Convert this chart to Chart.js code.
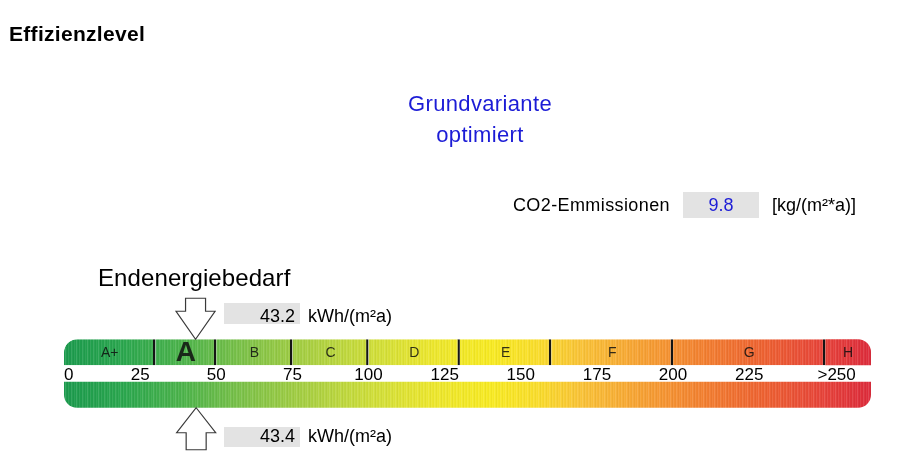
<!DOCTYPE html>
<html>
<head>
<meta charset="utf-8">
<script src="https://cdn.jsdelivr.net/npm/chart.js@4.4.1/dist/chart.umd.min.js"></script>
<style>
html,body{margin:0;padding:0;background:#fff;}
body{width:900px;height:456px;position:relative;overflow:hidden;font-family:"Liberation Sans",Arial,Helvetica,sans-serif;color:#000;}
#wrap{position:absolute;left:0;top:0;width:900px;height:456px;}
.t{position:absolute;line-height:1;white-space:nowrap;}
.box{position:absolute;background:#e3e3e3;}
.blue{color:#1c1cd6;}
</style>
</head>
<body>
<div id="wrap"><canvas id="c"></canvas></div>

<div class="t" id="pageTitle" style="left:9px;top:23px;font-size:21px;font-weight:bold;letter-spacing:0.3px;"></div>
<div class="t blue" id="variant" style="left:330px;width:300px;text-align:center;top:88px;font-size:22px;line-height:31px;letter-spacing:0.35px;"></div>

<div class="t" id="co2Label" style="right:230px;top:196px;font-size:18px;letter-spacing:0.4px;"></div>
<div class="box" style="left:683px;top:192px;width:76px;height:26px;"></div>
<div class="t blue" id="co2Value" style="left:683px;width:76px;text-align:center;top:196px;font-size:18px;"></div>
<div class="t" id="co2Unit" style="left:772px;top:196px;font-size:18px;"></div>

<div class="t" id="demandTitle" style="left:98px;top:266px;font-size:24px;letter-spacing:0.1px;"></div>

<div class="box" style="left:224px;top:303px;width:76px;height:21px;"></div>
<div class="t" id="valTop" style="left:224px;width:71px;text-align:right;top:306.5px;font-size:18px;"></div>
<div class="t" id="unitTop" style="left:308px;top:306.5px;font-size:18px;"></div>

<div class="box" style="left:224px;top:427px;width:76px;height:20px;"></div>
<div class="t" id="valBottom" style="left:224px;width:71px;text-align:right;top:427px;font-size:18px;"></div>
<div class="t" id="unitBottom" style="left:308px;top:427px;font-size:18px;"></div>

<script>
// ---------- data ----------
const pageTitle = 'Effizienzlevel';
const variantLines = ['Grundvariante', 'optimiert'];
const co2Label = 'CO2-Emmissionen';
const co2Value = 9.8;
const co2Unit = '[kg/(m²*a)]';
const demandTitle = 'Endenergiebedarf';
const demandUnit = 'kWh/(m²a)';
const rowLabels = ['Endenergiebedarf oben', 'Endenergiebedarf unten'];
const demandValues = [43.2, 43.4];               // top arrow, bottom arrow
const classNames = ['A+', 'A', 'B', 'C', 'D', 'E', 'F', 'G', 'H'];
const classLimits = [0, 30, 50, 75, 100, 130, 160, 200, 250, 265];
const scaleMax = 265;
const tickValues = [0, 25, 50, 75, 100, 125, 150, 175, 200, 225, 260];
const tickLabels = ['0', '25', '50', '75', '100', '125', '150', '175', '200', '225', '>250'];

// ---------- styles ----------
const gradValues = [0, 20, 40, 60, 80, 100, 120, 140, 155, 170, 190, 210, 230, 250, 265];
const gradColors = ['#1b9a4d', '#2ba74e', '#4fb44b', '#7fc248', '#a8cf42', '#cddd3a', '#ebe62e', '#f7ea22',
                    '#f9dd2b', '#f9c237', '#f6a033', '#f27f30', '#ed6131', '#e6423a', '#dc2b3b'];
const stripePattern = [0, 0.13, 0.02, -0.04, 0.08, 0, -0.02, 0.11, 0.03, -0.03, 0.06];
const FONT = '"Liberation Sans", Arial, Helvetica, sans-serif';

// ---------- html texts ----------
document.getElementById('pageTitle').textContent = pageTitle;
document.getElementById('variant').innerHTML = variantLines.join('<br>');
document.getElementById('co2Label').textContent = co2Label;
document.getElementById('co2Value').textContent = co2Value.toFixed(1);
document.getElementById('co2Unit').textContent = co2Unit;
document.getElementById('demandTitle').textContent = demandTitle;
document.getElementById('valTop').textContent = demandValues[0].toFixed(1);
document.getElementById('valBottom').textContent = demandValues[1].toFixed(1);
document.getElementById('unitTop').textContent = demandUnit;
document.getElementById('unitBottom').textContent = demandUnit;

// ---------- helpers ----------
function hexToRgb(h) { return [parseInt(h.slice(1, 3), 16), parseInt(h.slice(3, 5), 16), parseInt(h.slice(5, 7), 16)]; }
const gradRgb = gradColors.map(hexToRgb);
function colorAt(v) {
  for (let i = 0; i < gradValues.length - 1; i++) {
    if (v <= gradValues[i + 1]) {
      const t = (v - gradValues[i]) / (gradValues[i + 1] - gradValues[i]);
      const a = gradRgb[i], b = gradRgb[i + 1];
      return [a[0] + (b[0] - a[0]) * t, a[1] + (b[1] - a[1]) * t, a[2] + (b[2] - a[2]) * t];
    }
  }
  return gradRgb[gradRgb.length - 1].slice();
}
let gradCache = null;
function barFill(ctx) {
  const chart = ctx.chart;
  const xs = chart.scales.x;
  if (!chart.chartArea || !xs) return '#8bc34a';
  const x0 = xs.getPixelForValue(0), x1 = xs.getPixelForValue(scaleMax);
  const key = x0 + '_' + x1;
  if (gradCache && gradCache.key === key) return gradCache.g;
  const g = chart.ctx.createLinearGradient(x0, 0, x1, 0);
  const n = Math.max(1, Math.round(x1 - x0));
  for (let i = 0; i < n; i++) {
    const v = (i + 0.5) / n * scaleMax;
    let c = colorAt(v);
    const s = stripePattern[i % stripePattern.length];
    c = c.map(ch => s > 0 ? ch + (255 - ch) * s : ch * (1 + s));
    const col = 'rgb(' + c.map(ch => Math.round(ch)).join(',') + ')';
    g.addColorStop(i / n, col);
    g.addColorStop((i + 1) / n, col);
  }
  gradCache = { key, g };
  return g;
}
const currentClassIndex = classNames.findIndex((n, i) => demandValues[0] >= classLimits[i] && demandValues[0] < classLimits[i + 1]);

// ---------- datasets ----------
const RADIUS = 13;
const datasets = classNames.map((name, i) => ({
  label: name,
  data: [[classLimits[i], classLimits[i + 1]], null],
  backgroundColor: barFill,
  borderColor: '#141414',
  borderWidth: i < classNames.length - 1 ? { left: 0, right: 2.4, top: 0, bottom: 0 } : 0,
  borderSkipped: false,
  borderRadius: i === 0 ? { topLeft: RADIUS, topRight: 0, bottomLeft: 0, bottomRight: 0 }
              : i === classNames.length - 1 ? { topLeft: 0, topRight: RADIUS, bottomLeft: 0, bottomRight: 0 } : 0,
  grouped: false,
  barThickness: 26,
  inflateAmount: 0
}));
datasets.push({
  label: rowLabels[1],
  data: [null, [0, scaleMax]],
  backgroundColor: barFill,
  borderWidth: 0,
  borderSkipped: false,
  borderRadius: { topLeft: 0, topRight: 0, bottomLeft: RADIUS, bottomRight: RADIUS },
  grouped: false,
  barThickness: 26,
  inflateAmount: 0
});

// ---------- plugins ----------
const classLabelPlugin = {
  id: 'classLabels',
  afterDatasetsDraw(chart) {
    const ctx = chart.ctx;
    classNames.forEach((name, i) => {
      const el = chart.getDatasetMeta(i).data[0];
      if (!el) return;
      const big = i === currentClassIndex;
      const cx = (el.x + el.base) / 2;
      ctx.save();
      ctx.font = big ? 'bold 28px ' + FONT : '14px ' + FONT;
      ctx.fillStyle = 'rgba(15,15,15,0.85)';
      ctx.textAlign = 'center';
      ctx.textBaseline = 'middle';
      ctx.fillText(name, cx, el.y + (big ? 1.5 : 0.5));
      ctx.restore();
    });
  }
};
function drawArrow(ctx, x, tipY, dir, headLen, shaftLen) {
  const headHalf = 19.5, shaftHalf = 10;
  const y1 = tipY + dir * headLen, y2 = y1 + dir * shaftLen;
  ctx.save();
  ctx.beginPath();
  ctx.moveTo(x, tipY);
  ctx.lineTo(x + headHalf, y1);
  ctx.lineTo(x + shaftHalf, y1);
  ctx.lineTo(x + shaftHalf, y2);
  ctx.lineTo(x - shaftHalf, y2);
  ctx.lineTo(x - shaftHalf, y1);
  ctx.lineTo(x - headHalf, y1);
  ctx.closePath();
  ctx.fillStyle = '#ffffff';
  ctx.fill();
  ctx.lineWidth = 1.2;
  ctx.strokeStyle = '#3a3a3a';
  ctx.lineJoin = 'miter';
  ctx.stroke();
  ctx.restore();
}
const arrowPlugin = {
  id: 'arrows',
  afterDraw(chart) {
    const xs = chart.scales.x;
    const topEl = chart.getDatasetMeta(0).data[0];
    const botEl = chart.getDatasetMeta(classNames.length).data[1];
    if (!topEl || !botEl) return;
    drawArrow(chart.ctx, xs.getPixelForValue(demandValues[0]), topEl.y - topEl.height / 2, -1, 28, 13);
    drawArrow(chart.ctx, xs.getPixelForValue(demandValues[1]), botEl.y + botEl.height / 2, 1, 25, 17);
  }
};

// ---------- chart ----------
new Chart(document.getElementById('c'), {
  type: 'bar',
  data: { labels: rowLabels, datasets },
  options: {
    indexAxis: 'y',
    responsive: true,
    maintainAspectRatio: false,
    animation: false,
    layout: { padding: { top: 331, bottom: 40, left: 64, right: 29 } },
    plugins: { legend: { display: false }, tooltip: { enabled: false }, title: { display: false } },
    scales: {
      y: { display: false },
      x: {
        type: 'linear',
        min: 0,
        max: scaleMax,
        position: { y: 0.5 },
        grid: { display: false, drawTicks: false },
        border: { display: false },
        afterBuildTicks: s => { s.ticks = tickValues.map(v => ({ value: v })); },
        afterFit: s => { s.height = 0; },
        ticks: {
          autoSkip: false,
          maxRotation: 0,
          minRotation: 0,
          align: 'inner',
          padding: -8,
          color: '#000',
          font: { family: FONT, size: 17 },
          callback: (v, i) => tickLabels[i]
        }
      }
    }
  },
  plugins: [classLabelPlugin, arrowPlugin]
});
</script>
</body>
</html>
